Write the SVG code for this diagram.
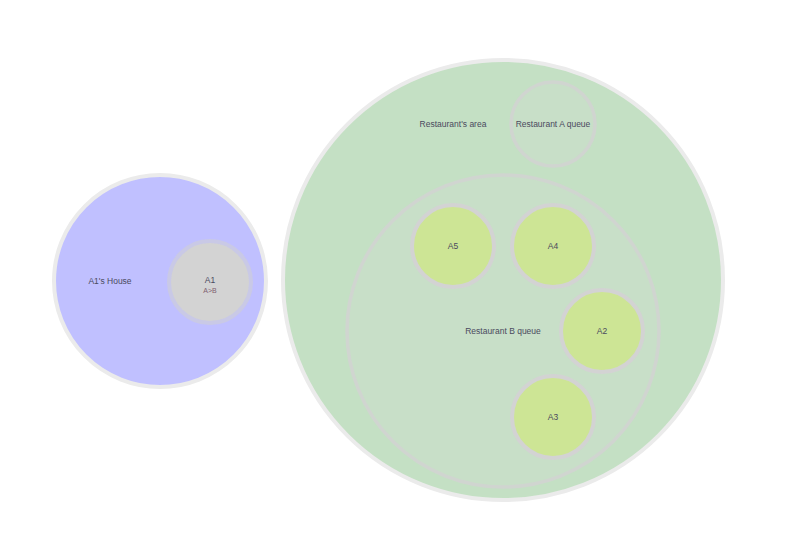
<svg xmlns="http://www.w3.org/2000/svg" width="787" height="537" viewBox="0 0 787 537">
<style>
.outer{stroke:#ebebeb;stroke-width:4}
.queue{fill:#c8dfc8;stroke:#d0d5d0;stroke-width:3.5}
.agent{fill:#cde595;stroke:#d3d3d3;stroke-width:4}
text{font-family:"Liberation Sans",Arial,sans-serif;font-size:8.5px;fill:#4a4a5e;text-anchor:middle;dominant-baseline:central}
</style>
<rect width="787" height="537" fill="#ffffff"/>
<g id="house">
<circle class="outer" cx="160" cy="281" r="106" fill="#c0c0ff"/>
<text x="110" y="281">A1's House</text>
</g>
<g id="A1">
<circle cx="210" cy="282" r="41" fill="#d3d3d3" stroke="#c9c9e6" stroke-width="4"/>
<text x="210" y="280">A1</text>
<text x="210" y="290" style="font-size:7px;fill:#806070">A&gt;B</text>
</g>
<g id="restaurants-area">
<circle class="outer" cx="503" cy="280" r="220" fill="#c4e0c4"/>
<text x="453" y="124">Restaurant's area</text>
</g>
<g id="restaurant-a-queue">
<circle class="queue" cx="553" cy="124" r="42"/>
<text x="553" y="124">Restaurant A queue</text>
</g>
<g id="restaurant-b-queue">
<circle class="queue" cx="503" cy="331" r="156"/>
<text x="503" y="331">Restaurant B queue</text>
</g>
<g id="A5">
<circle class="agent" cx="453" cy="246" r="41"/>
<text x="453" y="246">A5</text>
</g>
<g id="A4">
<circle class="agent" cx="553" cy="246" r="41"/>
<text x="553" y="246">A4</text>
</g>
<g id="A2">
<circle class="agent" cx="602" cy="331" r="41"/>
<text x="602" y="331">A2</text>
</g>
<g id="A3">
<circle class="agent" cx="553" cy="417" r="41"/>
<text x="553" y="417">A3</text>
</g>
<g id="connectors"></g>
</svg>
